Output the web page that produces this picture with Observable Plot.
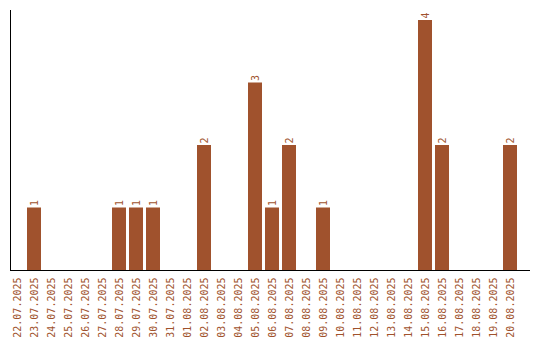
<!DOCTYPE html>
<html>
<head>
<meta charset="utf-8">
<script src="https://cdn.jsdelivr.net/npm/d3@7"></script>
<script src="https://cdn.jsdelivr.net/npm/@observablehq/plot@0.6"></script>
<style>
  html, body { margin: 0; padding: 0; background: #fff; }
</style>
</head>
<body>
<div id="chart"></div>
<script>
const dates = [
  "22.07.2025","23.07.2025","24.07.2025","25.07.2025","26.07.2025","27.07.2025",
  "28.07.2025","29.07.2025","30.07.2025","31.07.2025","01.08.2025","02.08.2025",
  "03.08.2025","04.08.2025","05.08.2025","06.08.2025","07.08.2025","08.08.2025",
  "09.08.2025","10.08.2025","11.08.2025","12.08.2025","13.08.2025","14.08.2025",
  "15.08.2025","16.08.2025","17.08.2025","18.08.2025","19.08.2025","20.08.2025"
];
const counts = [0,1,0,0,0,0,1,1,1,0,0,2,0,0,3,1,2,0,1,0,0,0,0,0,4,2,0,0,0,2];

const barColor = "#a0522d";
const data = dates.map((d, i) => ({date: d, count: counts[i]}));

const chart = Plot.plot({
  width: 540,
  height: 340,
  marginLeft: 10,
  marginRight: 10,
  marginTop: 10,
  marginBottom: 70,
  style: {fontFamily: "'DejaVu Sans Mono', monospace", fontSize: "10px", color: barColor, background: "#fff"},
  x: {type: "band", domain: dates, paddingInner: 3/17, paddingOuter: 0, insetRight: 13,
      tickRotate: -90, tickSize: 0, tickPadding: 7, label: null},
  y: {domain: [0, 4], insetTop: 10, axis: null},
  marks: [
    Plot.barY(data, {x: "date", y: "count", fill: barColor}),
    Plot.text(data.filter(d => d.count > 0), {x: "date", y: "count", text: d => String(d.count),
      rotate: -90, textAnchor: "start", dy: -2, fill: barColor}),
    Plot.frame({anchor: "left", stroke: "black"}),
    Plot.ruleY([0], {stroke: "black"})
  ]
});
document.getElementById("chart").appendChild(chart);
</script>
</body>
</html>
